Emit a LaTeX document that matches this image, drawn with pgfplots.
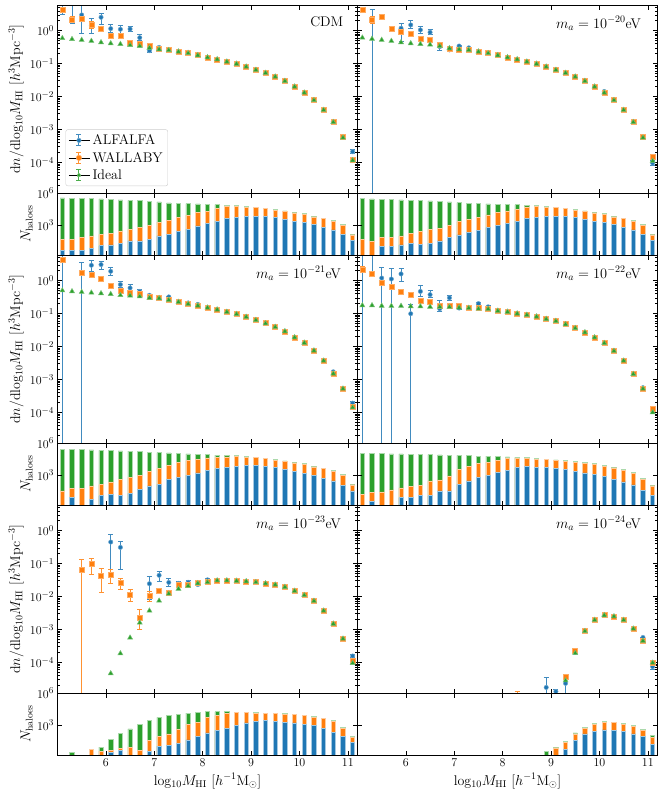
\documentclass[border=0pt]{standalone}
\usepackage{fontspec}
\usepackage{pgfplots}
\pgfplotsset{compat=1.18}
\usepackage{pgfplotstable}
\definecolor{cA}{HTML}{1F77B4}
\definecolor{cW}{HTML}{FF7F0E}
\definecolor{cI}{HTML}{2CA02C}

% ---------------- main panels: dn/dlog M ----------------
\pgfplotstableread{
x a ap am w wp wm i
5.1 8 0 5.0 4.4 0.8 0.8 0.585
5.3 7 0 5.33 2.2 0.46 0.45 0.55
5.5 3.0 3.5 2.17 2.37 0.3 0.3 0.52
5.7 1.45 0.92 0.62 1.49 0.35 0.3 0.485
5.9 2.54 0.82 1.05 1.12 0.1 0.1 0.44
6.1 1.15 0.34 0.26 0.705 0.06 0.06 0.41
6.3 1.10 0.29 0.27 0.69 0.05 0.05 0.39
6.5 1.12 0.20 0.19 0.44 0.04 0.04 0.36
6.7 0.61 0.13 0.11 0.39 0.03 0.03 0.34
6.9 0.247 0.08 0.027 0.34 0.02 0.02 0.30
7.1 0.31 0.03 0.03 0.29 0.01 0.01 0.27
7.3 0.26 0.02 0.02 0.26 0.01 0.01 0.255
7.5 0.235 0.015 0.015 0.23 0 0 0.23
7.7 0.22 0.012 0.012 0.21 0 0 0.205
7.9 0.18 0.01 0.01 0.18 0 0 0.178
8.1 0.155 0 0 0.155 0 0 0.154
8.3 0.135 0 0 0.135 0 0 0.134
8.5 0.115 0 0 0.115 0 0 0.114
8.7 0.099 0 0 0.099 0 0 0.098
8.9 0.081 0 0 0.081 0 0 0.080
9.1 0.064 0 0 0.064 0 0 0.064
9.3 0.053 0 0 0.053 0 0 0.052
9.5 0.040 0 0 0.040 0 0 0.040
9.7 0.0295 0 0 0.0295 0 0 0.0293
9.9 0.020 0 0 0.020 0 0 0.0199
10.1 0.0131 0 0 0.0131 0 0 0.0130
10.3 0.0078 0 0 0.0078 0 0 0.0077
10.5 0.0039 0 0 0.0039 0 0 0.0039
10.7 0.00168 0 0 0.00168 0 0 0.00166
10.9 0.00058 0 0 0.00058 0 0 0.00056
11.1 0.00021 0.00003 0.00003 0.00012 0.00001 0.00001 0.000115
}\mCDM

\pgfplotstableread{
x a ap am w wp wm i
5.1 nan 0 0 4.45 0.6 0.6 0.61
5.3 2.0 2.25 1.999999 2.1 0.56 0.5 0.56
5.5 nan 0 0 2.66 0.3 0.3 0.52
5.7 nan 0 0 1.18 0.1 0.1 0.485
5.9 1.18 0.41 0.72 0.93 0.08 0.08 0.44
6.1 1.49 0.51 0.31 0.79 0.05 0.05 0.41
6.3 1.05 0.27 0.22 0.58 0.04 0.04 0.39
6.5 0.89 0.16 0.15 0.52 0.03 0.03 0.375
6.7 0.327 0.08 0.07 0.385 0.02 0.02 0.34
6.9 0.26 0.02 0.02 0.29 0.01 0.01 0.29
7.1 0.34 0.02 0.02 0.27 0.01 0.01 0.27
7.3 0.30 0.015 0.015 0.26 0 0 0.26
7.5 0.235 0.01 0.01 0.23 0 0 0.23
7.7 0.21 0.01 0.01 0.21 0 0 0.205
7.9 0.18 0 0 0.18 0 0 0.178
8.1 0.155 0 0 0.155 0 0 0.154
8.3 0.135 0 0 0.135 0 0 0.134
8.5 0.115 0 0 0.115 0 0 0.114
8.7 0.099 0 0 0.099 0 0 0.098
8.9 0.081 0 0 0.081 0 0 0.080
9.1 0.064 0 0 0.064 0 0 0.064
9.3 0.053 0 0 0.053 0 0 0.052
9.5 0.040 0 0 0.040 0 0 0.040
9.7 0.0295 0 0 0.0295 0 0 0.0293
9.9 0.020 0 0 0.020 0 0 0.0199
10.1 0.0142 0 0 0.0131 0 0 0.0130
10.3 0.0078 0 0 0.0078 0 0 0.0077
10.5 0.0039 0 0 0.0039 0 0 0.0039
10.7 0.00168 0 0 0.00168 0 0 0.00166
10.9 0.00060 0 0 0.00058 0 0 0.00056
11.1 0.000095 0.000015 0.000015 0.000148 0.00001 0.00001 0.00011
}\mXX

\pgfplotstableread{
x a ap am w wp wm i
5.1 10 0 9.999999 4.4 0.6 0.6 0.50
5.3 nan 0 0 nan 0 0 0.47
5.5 1.7 1.75 1.699999 1.71 0.35 0.3 0.45
5.7 2.93 1.13 1.0 1.52 0.2 0.2 0.43
5.9 3.07 0.8 0.9 1.12 0.1 0.1 0.41
6.1 1.92 0.63 0.47 0.70 0.05 0.05 0.39
6.3 0.76 0.15 0.16 0.51 0.04 0.04 0.36
6.5 0.60 0.16 0.09 0.44 0.03 0.03 0.35
6.7 0.47 0.06 0.06 0.39 0.02 0.02 0.33
6.9 0.36 0.03 0.03 0.33 0.02 0.02 0.30
7.1 0.31 0.02 0.02 0.30 0.01 0.01 0.29
7.3 0.32 0.015 0.015 0.27 0 0 0.26
7.5 0.23 0.01 0.01 0.225 0 0 0.225
7.7 0.21 0.01 0.01 0.195 0 0 0.195
7.9 0.19 0.01 0.01 0.175 0 0 0.175
8.1 0.152 0 0 0.152 0 0 0.151
8.3 0.133 0 0 0.133 0 0 0.132
8.5 0.113 0 0 0.113 0 0 0.112
8.7 0.097 0 0 0.097 0 0 0.096
8.9 0.080 0 0 0.080 0 0 0.079
9.1 0.064 0 0 0.064 0 0 0.063
9.3 0.051 0 0 0.051 0 0 0.050
9.5 0.039 0 0 0.039 0 0 0.039
9.7 0.029 0 0 0.029 0 0 0.0288
9.9 0.019 0 0 0.019 0 0 0.0189
10.1 0.013 0 0 0.013 0 0 0.0129
10.3 0.0076 0 0 0.0076 0 0 0.0075
10.5 0.0037 0 0 0.0037 0 0 0.0037
10.7 0.0017 0 0 0.0015 0 0 0.0015
10.9 0.00053 0 0 0.00053 0 0 0.00052
11.1 0.00019 0.00002 0.00002 0.000145 0.00001 0.00001 0.00014
}\mXXI

\pgfplotstableread{
x a ap am w wp wm i
5.1 10 0 9.999999 2.16 0.57 0.45 0.177
5.3 8 0 6.08 1.6 0.3 0.25 0.177
5.5 1.2 1.35 1.199999 0.89 0.08 0.08 0.172
5.7 1.12 1.2 1.119999 0.63 0.05 0.05 0.170
5.9 1.6 0.72 0.65 0.47 0.04 0.04 0.170
6.1 0.099 0.096 0.098999 0.375 0.03 0.03 0.166
6.3 0.47 0.25 0.14 0.246 0.02 0.02 0.165
6.5 0.375 0.125 0.075 0.235 0.015 0.015 0.160
6.7 0.14 0.106 0.024 0.17 0.01 0.01 0.160
6.9 0.30 0.06 0.054 0.177 0.01 0.01 0.158
7.1 0.147 0.01 0.01 0.17 0 0 0.152
7.3 0.15 0.01 0.01 0.15 0 0 0.147
7.5 0.20 0.012 0.012 0.147 0 0 0.140
7.7 0.16 0.01 0.01 0.14 0 0 0.138
7.9 0.122 0 0 0.122 0 0 0.121
8.1 0.114 0 0 0.114 0 0 0.113
8.3 0.101 0 0 0.101 0 0 0.100
8.5 0.092 0 0 0.092 0 0 0.091
8.7 0.082 0 0 0.082 0 0 0.081
8.9 0.069 0 0 0.069 0 0 0.068
9.1 0.060 0 0 0.060 0 0 0.059
9.3 0.048 0 0 0.048 0 0 0.047
9.5 0.036 0 0 0.036 0 0 0.036
9.7 0.027 0 0 0.027 0 0 0.0268
9.9 0.019 0 0 0.019 0 0 0.0188
10.1 0.0127 0 0 0.0127 0 0 0.0126
10.3 0.0074 0 0 0.0074 0 0 0.0073
10.5 0.0037 0 0 0.0037 0 0 0.0037
10.7 0.00146 0 0 0.00146 0 0 0.00145
10.9 0.00056 0 0 0.00053 0 0 0.00052
11.1 0.000115 0.00001 0.00001 0.00013 0.00001 0.00001 0.000100
}\mXXII

\pgfplotstableread{
x a ap am w wp wm i
5.5 nan 0 0 0.065 0.072 0.064999 nan
5.7 nan 0 0 0.097 0.05 0.049 nan
5.9 nan 0 0 0.042 0.031 0.029 0.0000115
6.1 0.45 0.31 0.385 0.045 0.02 0.02 0.000046
6.3 0.31 0.16 0.245 0.026 0.008 0.01 0.000186
6.5 nan 0 0 0.011 0.005 0.004 0.00056
6.7 nan 0 0 0.0023 0.0016 0.0013 0.0016
6.9 0.0244 0.017 0.0165 0.0107 0.003 0.0036 0.0037
7.1 0.044 0.014 0.015 0.0149 0.001 0.001 0.0074
7.3 0.0267 0.009 0.0064 0.0129 0.001 0.001 0.0121
7.5 0.025 0.004 0.004 0.0227 0.001 0.001 0.0171
7.7 0.027 0.003 0.003 0.023 0 0 0.021
7.9 0.023 0.002 0.002 0.027 0 0 0.025
8.1 0.032 0.002 0.002 0.029 0 0 0.027
8.3 0.0307 0 0 0.0307 0 0 0.0305
8.5 0.031 0 0 0.031 0 0 0.0305
8.7 0.030 0 0 0.030 0 0 0.0298
8.9 0.029 0 0 0.029 0 0 0.0288
9.1 0.0273 0 0 0.0273 0 0 0.027
9.3 0.025 0 0 0.025 0 0 0.0248
9.5 0.023 0 0 0.023 0 0 0.0228
9.7 0.0195 0 0 0.0195 0 0 0.0193
9.9 0.0149 0 0 0.0149 0 0 0.0148
10.1 0.011 0 0 0.011 0 0 0.0109
10.3 0.0074 0 0 0.0074 0 0 0.0073
10.5 0.0038 0 0 0.0038 0 0 0.0037
10.7 0.0015 0 0 0.0015 0 0 0.00148
10.9 0.00053 0 0 0.00053 0 0 0.00052
11.1 0.000156 0.00002 0.00002 0.00011 0 0 0.000094
}\mXXIII

\pgfplotstableread{
x a ap am w wp wm i
8.3 nan 0 0 0.000008 0.0000048 0 nan
8.9 0.0000173 0.000018 0.0000172 nan 0 0 nan
9.1 0.000013 0.000002 0.0000016 nan 0 0 nan
9.3 0.000023 0.000009 0.0000229 0.000036 0.000005 0.000005 0.000028
9.5 0.00020 0.00002 0.00002 0.00023 0 0 0.00019
9.7 0.00090 0 0 0.00092 0 0 0.00088
9.9 0.00195 0 0 0.00195 0 0 0.00193
10.1 0.0027 0 0 0.0027 0 0 0.00268
10.3 0.0025 0 0 0.0025 0 0 0.00248
10.5 0.00195 0 0 0.00195 0 0 0.00193
10.7 0.00106 0 0 0.00106 0 0 0.00105
10.9 0.00057 0 0 0.00046 0 0 0.00045
11.1 0.000074 0.000012 0.000012 0.00010 0 0 0.000097
}\mXXIV

% ---------------- halo counts: log10 N ----------------
\pgfplotstableread{
x g o b
5.1 5.54 1.67 0.59
5.3 5.51 1.61 0.59
5.5 5.51 1.82 0.59
5.7 5.48 1.98 0.83
5.9 5.45 2.13 1.05
6.1 5.38 2.23 1.14
6.3 5.35 2.44 1.27
6.5 5.32 2.60 1.51
6.7 5.29 2.75 1.51
6.9 5.20 3.00 1.67
7.1 5.17 3.28 1.98
7.3 5.07 3.46 2.13
7.5 5.04 3.68 2.38
7.7 5.01 3.93 2.60
7.9 4.98 4.15 2.91
8.1 4.95 4.30 3.15
8.3 4.92 4.52 3.34
8.5 4.86 4.74 3.62
8.7 4.80 4.73 3.74
8.9 4.73 4.68 3.84
9.1 4.66 4.62 3.84
9.3 4.57 4.53 3.77
9.5 4.45 4.40 3.68
9.7 4.32 4.27 3.53
9.9 4.20 4.14 3.37
10.1 4.05 3.99 3.22
10.3 3.84 3.76 3.06
10.5 3.62 3.58 2.75
10.7 3.43 3.37 2.54
10.9 3.06 3.00 2.13
11.1 2.13 2.07 1.58
}\bCDM

\pgfplotstableread{
x g o b
5.1 5.48 1.61 nan
5.3 5.45 1.45 nan
5.5 5.41 1.82 0.99
5.7 5.38 1.82 0.99
5.9 5.35 1.98 1.14
6.1 5.32 2.20 1.24
6.3 5.29 2.38 1.20
6.5 5.26 2.60 1.30
6.7 5.23 2.69 1.51
6.9 5.17 3.00 1.82
7.1 5.11 3.31 2.07
7.3 5.05 3.55 2.30
7.5 5.00 3.75 2.50
7.7 4.97 3.95 2.75
7.9 4.94 4.15 2.95
8.1 4.92 4.32 3.15
8.3 4.89 4.50 3.34
8.5 4.85 4.70 3.58
8.7 4.80 4.73 3.74
8.9 4.73 4.68 3.84
9.1 4.66 4.62 3.84
9.3 4.57 4.53 3.77
9.5 4.45 4.40 3.68
9.7 4.32 4.27 3.53
9.9 4.20 4.14 3.37
10.1 4.05 3.99 3.22
10.3 3.84 3.76 3.06
10.5 3.62 3.58 2.75
10.7 3.43 3.37 2.54
10.9 3.06 3.00 2.13
11.1 2.13 2.07 1.58
}\bXX

\pgfplotstableread{
x g o b
5.1 5.38 1.51 nan
5.3 5.38 1.73 0.89
5.5 5.38 1.73 nan
5.7 5.35 1.98 0.68
5.9 5.32 2.10 1.05
6.1 5.29 2.35 1.20
6.3 5.26 2.60 1.05
6.5 5.23 2.78 1.27
6.7 5.20 3.00 1.67
6.9 5.14 3.31 1.98
7.1 5.11 3.62 2.13
7.3 5.07 3.90 2.60
7.5 5.01 4.15 2.75
7.7 4.97 4.35 3.00
7.9 4.94 4.50 3.20
8.1 4.90 4.60 3.40
8.3 4.86 4.66 3.58
8.5 4.82 4.70 3.70
8.7 4.80 4.73 3.80
8.9 4.73 4.68 3.86
9.1 4.66 4.62 3.86
9.3 4.57 4.53 3.80
9.5 4.45 4.40 3.70
9.7 4.32 4.27 3.55
9.9 4.20 4.14 3.37
10.1 4.05 3.99 3.15
10.3 3.84 3.76 3.00
10.5 3.62 3.58 2.70
10.7 3.43 3.37 2.45
10.9 3.06 3.00 2.00
11.1 2.13 2.07 1.51
}\bXXI

\pgfplotstableread{
x g o b
5.1 5.01 1.20 nan
5.3 5.01 1.36 0.50
5.5 5.01 1.42 nan
5.7 4.98 1.61 nan
5.9 4.98 1.79 0.89
6.1 4.95 1.92 0.89
6.3 4.92 2.04 1.05
6.5 4.92 2.44 1.05
6.7 4.89 2.54 1.51
6.9 4.86 2.91 1.51
7.1 4.83 3.53 2.13
7.3 4.80 3.77 2.44
7.5 4.76 4.10 2.75
7.7 4.76 4.22 2.97
7.9 4.73 4.39 3.22
8.1 4.70 4.55 3.46
8.3 4.67 4.58 3.68
8.5 4.61 4.55 3.77
8.7 4.55 4.50 3.74
8.9 4.49 4.44 3.68
9.1 4.42 4.37 3.60
9.3 4.33 4.28 3.50
9.5 4.24 4.18 3.35
9.7 4.15 4.08 3.20
9.9 4.05 3.98 3.02
10.1 3.93 3.84 2.85
10.3 3.74 3.66 2.60
10.5 3.53 3.45 2.35
10.7 3.22 3.14 2.07
10.9 2.66 2.60 1.55
11.1 2.04 1.98 1.05
}\bXXII

\pgfplotstableread{
x g o b
5.3 0.46 nan nan
5.7 nan 0.71 nan
5.9 0.93 0.55 nan
6.1 1.64 0.60 0.46
6.3 2.23 0.77 0.62
6.5 2.63 0.93 nan
6.7 3.09 0.62 nan
6.9 3.40 1.54 0.52
7.1 3.71 1.92 1.02
7.3 3.87 2.16 1.05
7.5 4.02 2.57 1.24
7.7 4.11 3.09 1.61
7.9 4.18 3.25 1.92
8.1 4.24 3.71 2.26
8.3 4.24 3.87 2.47
8.5 4.24 4.11 2.72
8.7 4.21 4.18 3.00
8.9 4.18 4.15 3.19
9.1 4.15 4.11 3.34
9.3 4.11 4.08 3.40
9.5 4.08 4.05 3.34
9.7 4.05 4.02 3.28
9.9 3.99 3.96 3.19
10.1 3.90 3.87 3.09
10.3 3.77 3.74 2.94
10.5 3.62 3.59 2.69
10.7 3.40 3.36 2.32
10.9 2.78 2.69 1.92
11.1 1.95 1.85 1.39
}\bXXIII

\pgfplotstableread{
x g o b
8.9 0.52 nan nan
9.1 0.90 0.86 nan
9.3 1.45 1.39 0.68
9.5 2.26 2.16 1.54
9.7 2.78 2.72 2.16
9.9 3.15 3.09 2.41
10.1 3.31 3.25 2.54
10.3 3.28 3.22 2.47
10.5 3.15 3.09 2.38
10.7 2.94 2.85 2.16
10.9 2.57 2.47 1.92
11.1 2.01 1.85 1.17
}\bXXIV

\pgfplotsset{
  rsBase/.style={scale only axis, anchor=north west, width=300pt,
    xmin=5, xmax=11.2, xtick={6,7,8,9,10,11},
    tick align=inside, major tick length=4.5pt, minor tick length=2.2pt,
    every tick/.style={black, line width=0.6pt},
    axis line style={line width=0.8pt}, axis on top,
    tick label style={font=\fontsize{13}{15}\selectfont},
    clip=true},
  rsMain/.style={rsBase, height=188pt, ymin=1.17e-5, ymax=6,
    ytick={1e-4,1e-3,1e-2,1e-1,1},
    minor ytick={2e-5,3e-5,4e-5,5e-5,6e-5,7e-5,8e-5,9e-5,
      2e-4,3e-4,4e-4,5e-4,6e-4,7e-4,8e-4,9e-4,
      2e-3,3e-3,4e-3,5e-3,6e-3,7e-3,8e-3,9e-3,
      2e-2,3e-2,4e-2,5e-2,6e-2,7e-2,8e-2,9e-2,
      0.2,0.3,0.4,0.5,0.6,0.7,0.8,0.9,2,3,4,5},
    xticklabels={},
    ylabel style={at={(axis description cs:-0.138,0.5)}, anchor=center, font=\fontsize{14}{16}\selectfont}},
  rsBar/.style={rsBase, height=62pt, ymin=0.19, ymax=6,
    ytick={3,6}, yticklabels={$10^3$,$10^6$},
    xticklabels={},
    ylabel style={at={(axis description cs:-0.103,0.5)}, anchor=center, font=\fontsize{14}{16}\selectfont},
    xlabel style={at={(axis description cs:0.5,0)}, anchor=center, yshift=-26pt, font=\fontsize{14}{16}\selectfont}},
  rsBottom/.style={xticklabels={$6$,$7$,$8$,$9$,$10$,$11$}, xlabel={log$_{10}M_{\mathrm{HI}}$ [$h^{-1}$M$_\odot$]}},
  rsLegA/.style={legend image code/.code={
      \path (0cm,0pt) -- (0.75cm,0pt);
      \draw[draw=cA!85, line width=1pt] (0.35cm,-5.5pt)--(0.35cm,5.5pt) (0.35cm-2.5pt,-5.5pt)--(0.35cm+2.5pt,-5.5pt) (0.35cm-2.5pt,5.5pt)--(0.35cm+2.5pt,5.5pt);
      \filldraw[fill=cA, draw=cA!65, line width=0.5pt] (0.35cm,0pt) circle (2.2pt);}},
  rsLegW/.style={legend image code/.code={
      \path (0cm,0pt) -- (0.75cm,0pt);
      \draw[draw=cW!85, line width=1pt] (0.35cm,-5.5pt)--(0.35cm,5.5pt) (0.35cm-2.5pt,-5.5pt)--(0.35cm+2.5pt,-5.5pt) (0.35cm-2.5pt,5.5pt)--(0.35cm+2.5pt,5.5pt);
      \filldraw[fill=cW, draw=cW!65, line width=0.5pt] (0.35cm-2.5pt,-2.5pt) rectangle (0.35cm+2.5pt,2.5pt);}},
  rsLegI/.style={legend image code/.code={
      \path (0cm,0pt) -- (0.75cm,0pt);
      \draw[draw=cI!85, line width=1pt] (0.35cm,-5.5pt)--(0.35cm,5.5pt) (0.35cm-2.5pt,-5.5pt)--(0.35cm+2.5pt,-5.5pt) (0.35cm-2.5pt,5.5pt)--(0.35cm+2.5pt,5.5pt);
      \filldraw[fill=cI, draw=cI!65, line width=0.5pt] (0.35cm,2.9pt) -- (0.35cm-2.5pt,-1.45pt) -- (0.35cm+2.5pt,-1.45pt) -- cycle;}},
  rsSerA/.style={only marks, mark=*, mark size=2.2pt, mark options={fill=cA, draw=cA!65, line width=0.5pt}, rsLegA,
    error bars/y dir=both, error bars/y explicit,
    error bars/error bar style={draw=cA!85, line width=1pt},
    error bars/error mark options={rotate=90, draw=cA!85, mark size=2.5pt, line width=1pt}},
  rsSerW/.style={only marks, mark=square*, mark size=2.5pt, mark options={fill=cW, draw=cW!65, line width=0.5pt}, rsLegW,
    error bars/y dir=both, error bars/y explicit,
    error bars/error bar style={draw=cW!85, line width=1pt},
    error bars/error mark options={rotate=90, draw=cW!85, mark size=2.5pt, line width=1pt}},
  rsSerI/.style={only marks, mark=triangle*, mark size=2.9pt, mark options={fill=cI, draw=cI!65, line width=0.5pt}, rsLegI},
  rsBarI/.style={ybar, bar width=0.09, bar shift=0pt, fill=cI, draw=cI!40, line width=0.7pt},
  rsBarW/.style={ybar, bar width=0.09, bar shift=0pt, fill=cW, draw=cW!40, line width=0.7pt},
  rsBarA/.style={ybar, bar width=0.09, bar shift=0pt, fill=cA, draw=cA!40, line width=0.7pt},
}
\tikzset{rsAnnot/.style={anchor=north east, inner sep=0pt, font=\fontsize{14}{16}\selectfont}}

\newcommand{\mainplots}[1]{%
  \addplot[rsSerA] table[x=x,y=a,y error plus=ap,y error minus=am]{#1};
  \addplot[rsSerW] table[x=x,y=w,y error plus=wp,y error minus=wm]{#1};
  \addplot[rsSerI] table[x=x,y=i]{#1};}
\newcommand{\barplots}[1]{%
  \addplot[rsBarI] table[x=x,y=g]{#1};
  \addplot[rsBarW] table[x=x,y=o]{#1};
  \addplot[rsBarA] table[x=x,y=b]{#1};}

\begin{document}
\begin{tikzpicture}
\path[use as bounding box] (0,0) rectangle (664pt,-796pt);

% ---------- row 1 ----------
\begin{axis}[ymode=log, rsMain, at={(57.5pt,-5pt)},
  ylabel={d$n$/dlog$_{10}M_{\mathrm{HI}}$ [$h^3$Mpc$^{-3}$]},
  legend cell align=left,
  legend style={at={(0.027,0.037)}, anchor=south west, draw=black!20, fill=white,
    rounded corners=2pt, font=\fontsize{14}{16}\selectfont, row sep=2pt, inner sep=3pt}]
  \mainplots{\mCDM}
  \legend{ALFALFA,WALLABY,Ideal}
  \node[rsAnnot] at (rel axis cs:0.953,0.94) {CDM};
\end{axis}
\begin{axis}[rsBar, at={(57.5pt,-193pt)}, ylabel={$N_{\mathrm{haloes}}$}]
  \barplots{\bCDM}
\end{axis}
\begin{axis}[ymode=log, rsMain, at={(357.5pt,-5pt)}, yticklabels={}]
  \mainplots{\mXX}
  \node[rsAnnot] at (rel axis cs:0.945,0.94) {$m_a=10^{-20}$eV};
\end{axis}
\begin{axis}[rsBar, at={(357.5pt,-193pt)}, yticklabels={}]
  \barplots{\bXX}
\end{axis}

% ---------- row 2 ----------
\begin{axis}[ymode=log, rsMain, at={(57.5pt,-255pt)},
  ylabel={d$n$/dlog$_{10}M_{\mathrm{HI}}$ [$h^3$Mpc$^{-3}$]}]
  \mainplots{\mXXI}
  \node[rsAnnot] at (rel axis cs:0.945,0.94) {$m_a=10^{-21}$eV};
\end{axis}
\begin{axis}[rsBar, at={(57.5pt,-443pt)}, ylabel={$N_{\mathrm{haloes}}$}]
  \barplots{\bXXI}
\end{axis}
\begin{axis}[ymode=log, rsMain, at={(357.5pt,-255pt)}, yticklabels={}]
  \mainplots{\mXXII}
  \node[rsAnnot] at (rel axis cs:0.945,0.94) {$m_a=10^{-22}$eV};
\end{axis}
\begin{axis}[rsBar, at={(357.5pt,-443pt)}, yticklabels={}]
  \barplots{\bXXII}
\end{axis}

% ---------- row 3 ----------
\begin{axis}[ymode=log, rsMain, at={(57.5pt,-505pt)},
  ylabel={d$n$/dlog$_{10}M_{\mathrm{HI}}$ [$h^3$Mpc$^{-3}$]}]
  \mainplots{\mXXIII}
  \node[rsAnnot] at (rel axis cs:0.945,0.94) {$m_a=10^{-23}$eV};
\end{axis}
\begin{axis}[rsBar, rsBottom, at={(57.5pt,-693pt)}, ylabel={$N_{\mathrm{haloes}}$}]
  \barplots{\bXXIII}
\end{axis}
\begin{axis}[ymode=log, rsMain, at={(357.5pt,-505pt)}, yticklabels={}]
  \mainplots{\mXXIV}
  \node[rsAnnot] at (rel axis cs:0.945,0.94) {$m_a=10^{-24}$eV};
\end{axis}
\begin{axis}[rsBar, rsBottom, at={(357.5pt,-693pt)}, yticklabels={}]
  \barplots{\bXXIV}
\end{axis}
\end{tikzpicture}
\end{document}
